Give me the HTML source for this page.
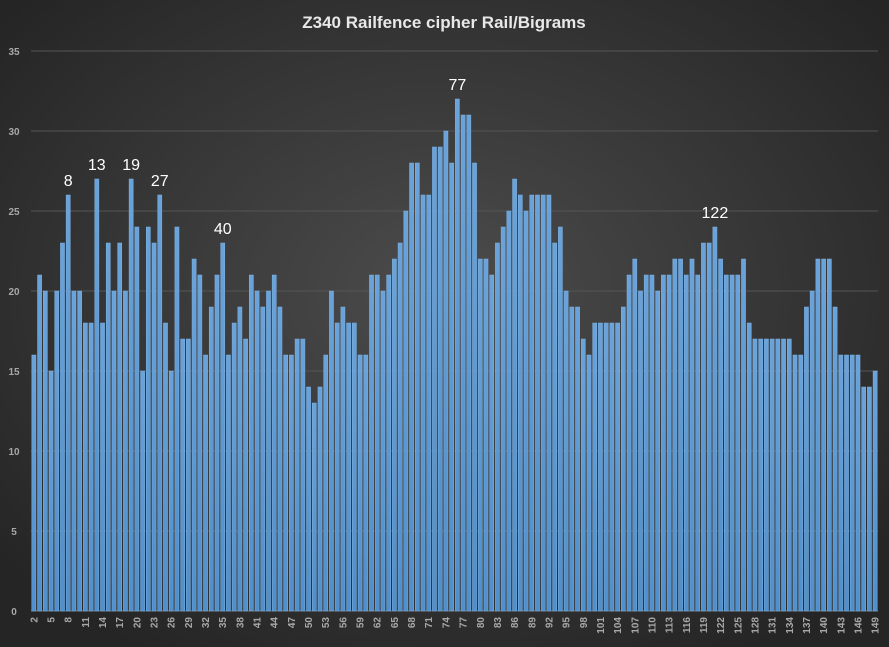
<!DOCTYPE html>
<html><head><meta charset="utf-8"><style>
html,body{margin:0;padding:0;background:#2b2b2b}
svg{display:block}
text{font-family:"Liberation Sans",sans-serif}
</style></head><body>
<svg id="chart" width="889" height="647" viewBox="0 0 889 647" xmlns="http://www.w3.org/2000/svg">
<defs>
<radialGradient id="bg" cx="50%" cy="45%" r="65%">
<stop offset="0" stop-color="#4c4c4c"/><stop offset="1" stop-color="#252525"/>
</radialGradient>
<linearGradient id="barg" x1="0" y1="0" x2="0" y2="1"><stop offset="0" stop-color="#6aa3da"/><stop offset="1" stop-color="#4f8fcc"/></linearGradient>
</defs>
<rect x="0" y="0" width="889" height="647" fill="url(#bg)"/>
<text x="444" y="28" text-anchor="middle" font-size="17" font-weight="bold" fill="#e8e8e8">Z340 Railfence cipher Rail/Bigrams</text>
<g id="grid"></g><g id="bars"></g><g id="xlabels"></g><g id="ylabels"></g><g id="annots"></g>
</svg>
<script>
const values=[16,21,20,15,20,23,26,20,20,18,18,27,18,23,20,23,20,27,24,15,24,23,26,18,15,24,17,17,22,21,16,19,21,23,16,18,19,17,21,20,19,20,21,19,16,16,17,17,14,13,14,16,20,18,19,18,18,16,16,21,21,20,21,22,23,25,28,28,26,26,29,29,30,28,32,31,31,28,22,22,21,23,24,25,27,26,25,26,26,26,26,23,24,20,19,19,17,16,18,18,18,18,18,19,21,22,20,21,21,20,21,21,22,22,21,22,21,23,23,24,22,21,21,21,22,18,17,17,17,17,17,17,17,16,16,19,20,22,22,22,19,16,16,16,16,14,14,15];
const firstCategory=2;
const yTicks=[0,5,10,15,20,25,30,35];
const annotLabels=["8","13","19","27","40","77","122"];
const annotIndex=[6,11,17,22,33,74,119];
const NS="http://www.w3.org/2000/svg";
const L=31,R=878,Y0=611,Ymax=35,Y35=51;
const bw=(R-L)/values.length;
const y=v=>Y0-(Y0-Y35)*v/Ymax;
const xc=i=>L+bw*(i+0.5);
function mk(tag,attrs,parent){const e=document.createElementNS(NS,tag);for(const k in attrs)e.setAttribute(k,attrs[k]);parent.appendChild(e);return e;}
const g=document.getElementById('grid'),b=document.getElementById('bars'),xl=document.getElementById('xlabels'),yl=document.getElementById('ylabels'),an=document.getElementById('annots');
yTicks.forEach(t=>{
 const ln=mk('line',{x1:L,x2:R,y1:y(t),y2:y(t),stroke:t===0?'#6a6a6a':'#555','stroke-width':1},g);
 
 
 const tx=mk('text',{x:14,y:y(t)+4,'text-anchor':'middle','font-size':10,'font-weight':'bold',fill:'#a8a8a8'},yl);
 tx.textContent=t;
 
 
});
values.forEach((v,i)=>{
 const r=mk('rect',{x:xc(i)-bw*0.36,y:y(v),width:bw*0.72,height:Y0-y(v),fill:'url(#barg)',stroke:'#7fb3e3','stroke-width':0.5},b);
 
 
 if(i%3===0){
  const t=mk('text',{x:0,y:0,'text-anchor':'end','font-size':10,'font-weight':'bold',fill:'#a8a8a8',transform:`translate(${xc(i)+3.5},617) rotate(-90)`},xl);
  t.textContent=i+firstCategory;
  
  
 }
});
annotLabels.forEach((s,k)=>{
 const i=annotIndex[k];
 const t=mk('text',{x:xc(i),y:y(values[i])-9,'text-anchor':'middle','font-size':16,fill:'#ffffff'},an);
 t.textContent=s;
 
 
});
</script>
</body></html>
